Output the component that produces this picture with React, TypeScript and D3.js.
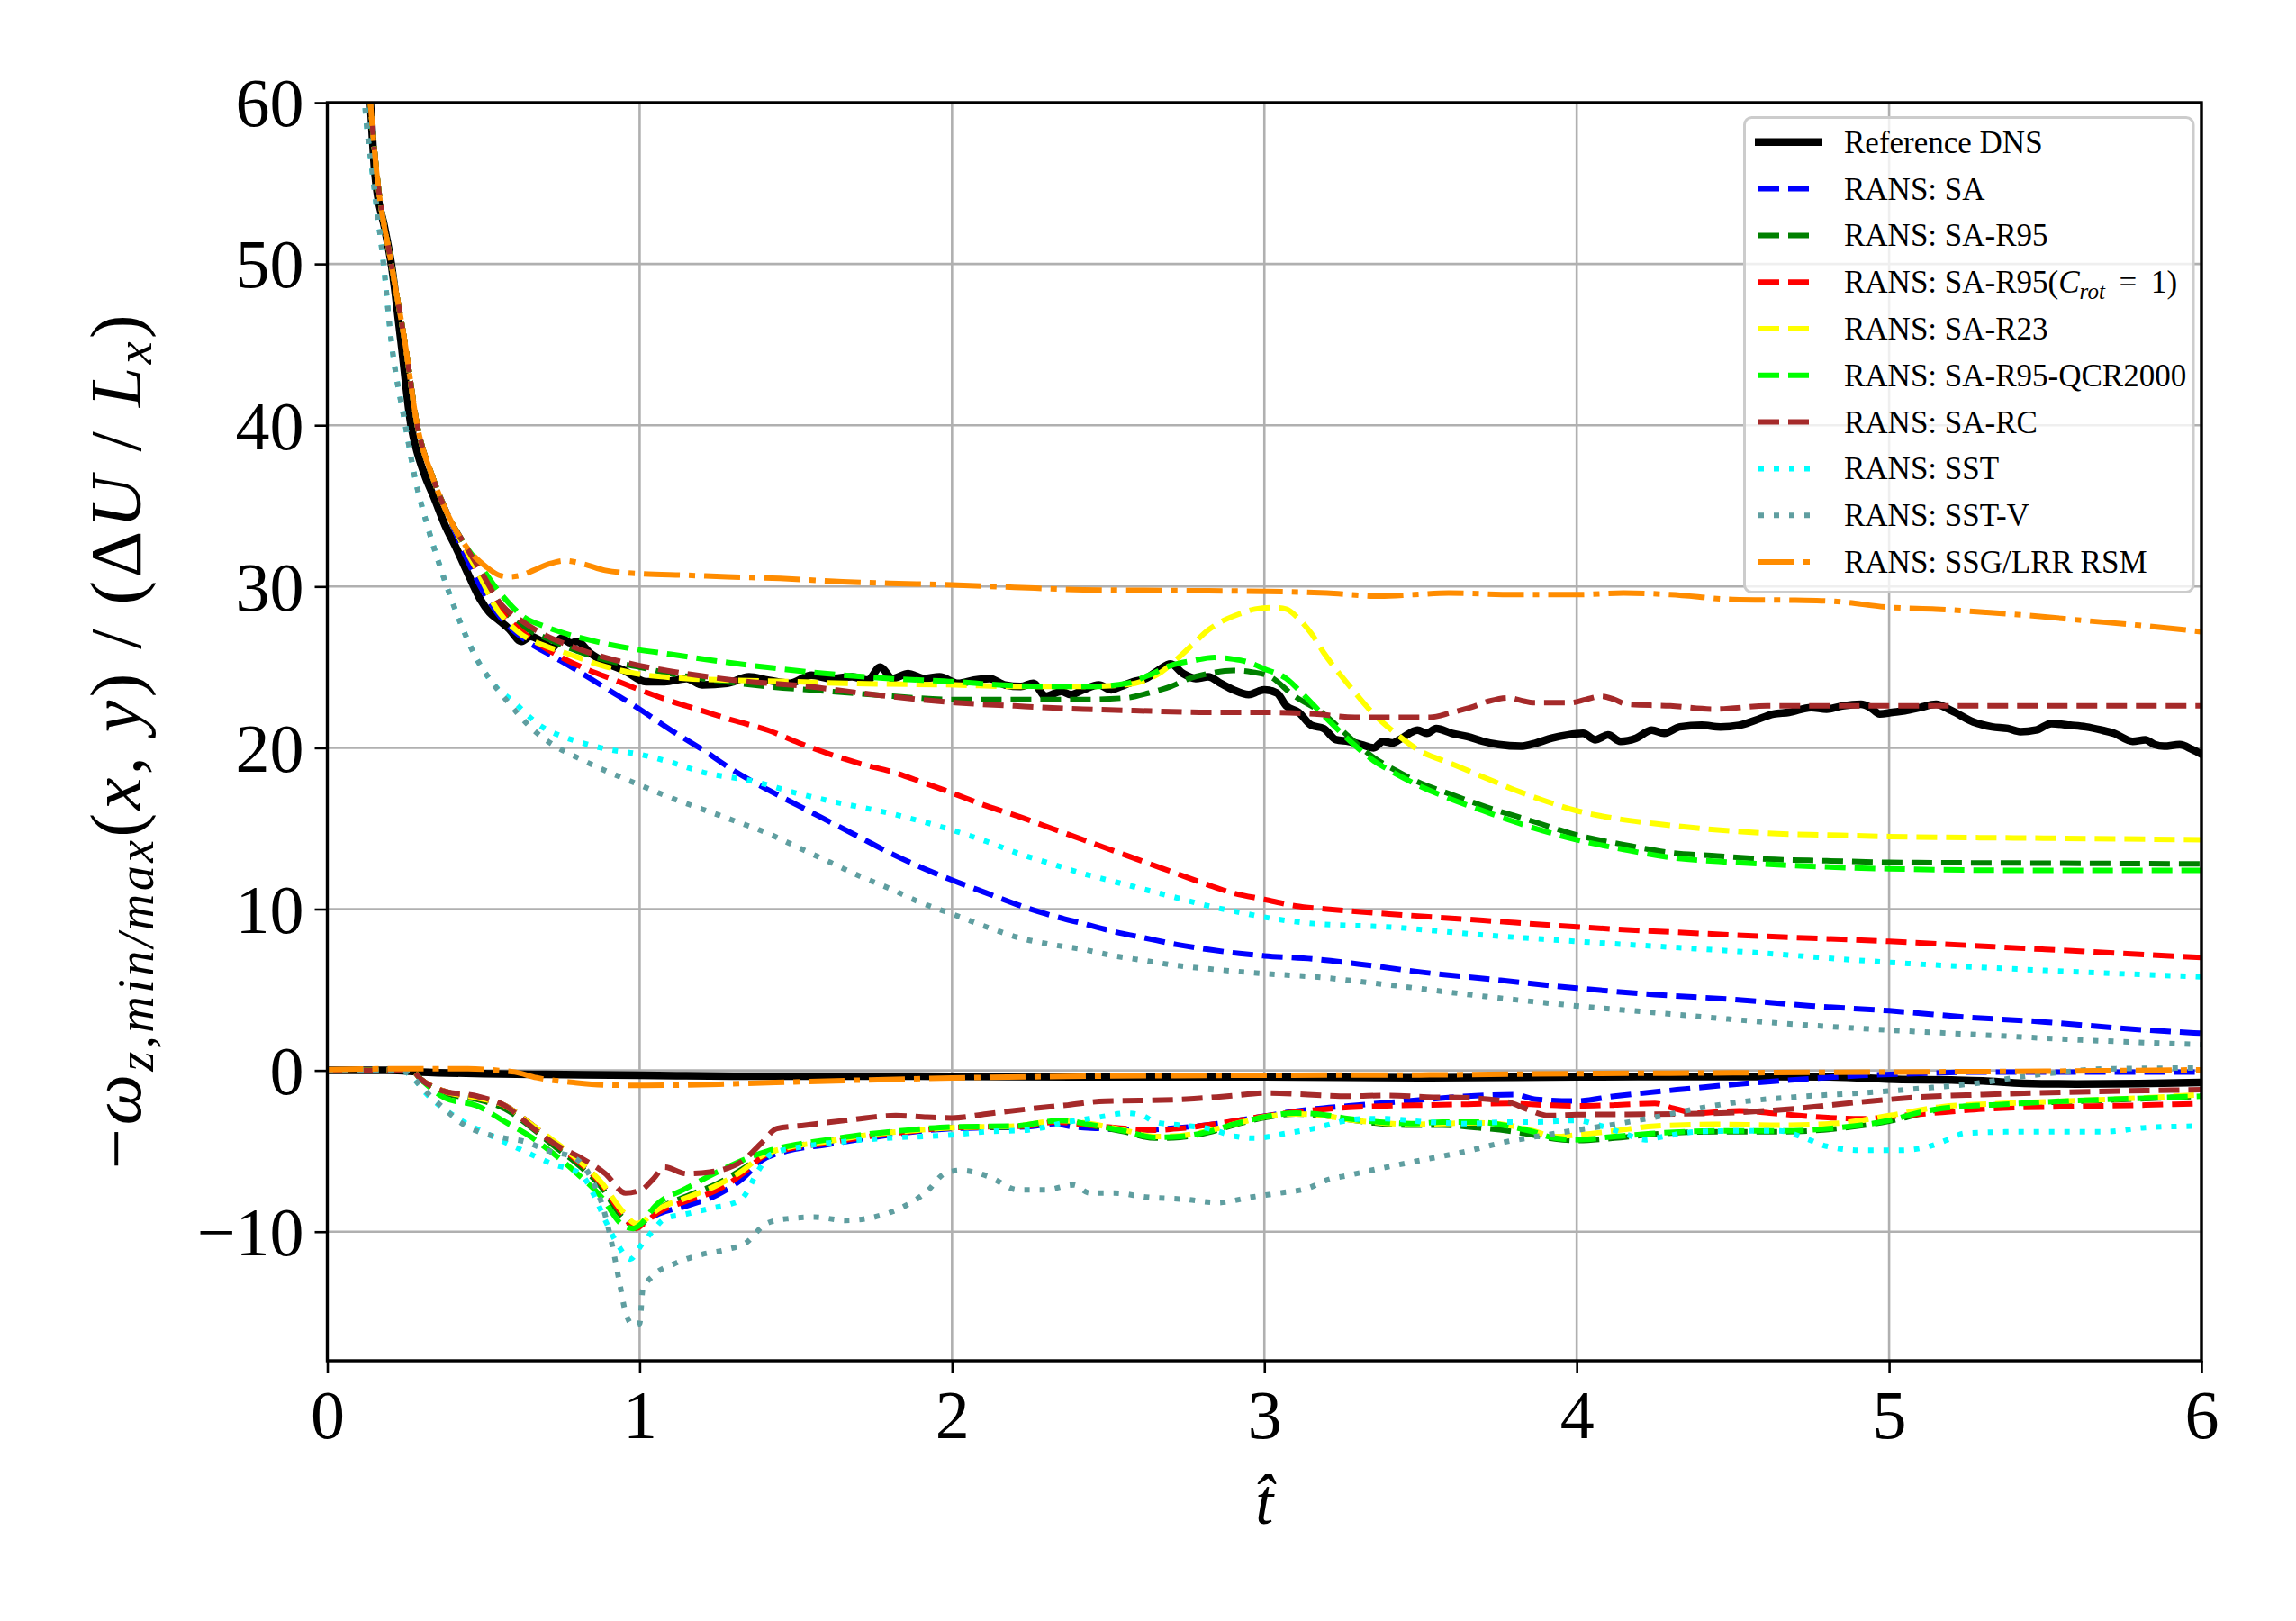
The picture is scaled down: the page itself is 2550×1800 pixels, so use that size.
import { useEffect, useRef } from "react"
import * as d3 from "d3"

type Pt = [number, number]

// eje x / eje y
const ticksX = [0, 1, 2, 3, 4, 5, 6]
const ticksY = [-10, 0, 10, 20, 30, 40, 50, 60]

// Reference DNS
const dnsUpper: Pt[] = [
  [0.1, 72], [0.138, 60], [0.152, 55.7], [0.184, 52.2], [0.205, 50], [0.236, 45.2], [0.268, 40], [0.29, 38.2],
  [0.314, 36.8], [0.34, 35.6], [0.377, 33.8], [0.415, 32.3], [0.455, 30.6], [0.49, 29.2], [0.519, 28.4], [0.55, 27.9],
  [0.58, 27.4], [0.622, 26.6], [0.65, 26.9], [0.686, 26.6], [0.72, 26.2], [0.75, 26.8], [0.78, 26.5], [0.8, 26.6],
  [0.84, 25.9], [0.89, 25.3], [0.95, 24.8], [1.02, 24.1], [1.08, 24.1], [1.15, 24.3], [1.2, 23.9], [1.28, 24.0],
  [1.35, 24.4], [1.41, 24.2], [1.48, 24.0], [1.55, 24.5], [1.61, 24.3], [1.68, 24.4], [1.73, 24.2], [1.77, 25.0],
  [1.81, 24.3], [1.86, 24.6], [1.91, 24.3], [1.96, 24.4], [2.02, 24.0], [2.07, 24.2], [2.12, 24.3], [2.17, 23.9],
  [2.22, 23.8], [2.26, 24.0], [2.3, 23.2], [2.35, 23.5], [2.38, 23.3], [2.42, 23.6], [2.47, 23.9], [2.51, 23.6],
  [2.54, 23.8], [2.58, 24.1], [2.62, 24.3], [2.66, 24.8], [2.7, 25.2], [2.74, 24.6], [2.78, 24.3], [2.82, 24.4],
  [2.86, 24.0], [2.9, 23.6], [2.95, 23.3], [2.98, 23.5], [3.0, 23.6], [3.04, 23.4], [3.07, 22.6], [3.11, 22.2],
  [3.15, 21.4], [3.19, 21.2], [3.23, 20.5], [3.27, 20.4], [3.31, 20.2], [3.35, 20.0], [3.38, 20.4], [3.41, 20.3],
  [3.44, 20.6], [3.49, 21.1], [3.52, 20.9], [3.55, 21.2], [3.6, 20.9], [3.65, 20.7], [3.7, 20.4], [3.75, 20.2],
  [3.82, 20.1], [3.87, 20.3], [3.92, 20.6], [3.97, 20.8], [4.02, 20.9], [4.06, 20.5], [4.1, 20.8], [4.14, 20.4],
  [4.19, 20.6], [4.24, 21.1], [4.28, 20.9], [4.33, 21.3], [4.4, 21.4], [4.46, 21.3], [4.52, 21.4], [4.57, 21.7],
  [4.63, 22.1], [4.68, 22.2], [4.75, 22.5], [4.8, 22.4], [4.85, 22.6], [4.91, 22.7], [4.94, 22.5], [4.97, 22.1],
  [5.01, 22.2], [5.05, 22.3], [5.1, 22.5], [5.15, 22.7], [5.2, 22.3], [5.27, 21.6], [5.33, 21.3], [5.38, 21.2],
  [5.42, 21.0], [5.47, 21.1], [5.52, 21.5], [5.58, 21.4], [5.63, 21.3], [5.68, 21.1], [5.72, 20.9], [5.78, 20.4],
  [5.82, 20.5], [5.85, 20.2], [5.88, 20.1], [5.93, 20.2], [5.97, 19.9], [6.0, 19.6],
]
const dnsLower: Pt[] = [
  [0, 0], [0.2, 0], [0.3, -0.1], [0.5, -0.2], [0.7, -0.25], [1.0, -0.3], [1.3, -0.35], [1.6, -0.35], [2.0, -0.37],
  [2.5, -0.4], [3.0, -0.4], [3.5, -0.45], [4.0, -0.4], [4.5, -0.38], [4.8, -0.4], [5.04, -0.56], [5.2, -0.6],
  [5.3, -0.65], [5.43, -0.8], [5.6, -0.84], [5.8, -0.82], [6.0, -0.75],
]

// RANS: SA
const saUpper: Pt[] = [
  [0.1, 72], [0.138, 60], [0.158, 55.7], [0.205, 50], [0.248, 45.2], [0.288, 40], [0.337, 36.8], [0.39, 34.3],
  [0.44, 32.0], [0.49, 30.0], [0.55, 28.2], [0.64, 26.6], [0.72, 25.7], [0.8, 24.8], [0.9, 23.6], [1.0, 22.4],
  [1.1, 21.1], [1.2, 19.9], [1.3, 18.6], [1.41, 17.4], [1.51, 16.4], [1.61, 15.4], [1.71, 14.4], [1.81, 13.4],
  [1.9, 12.6], [2.0, 11.8], [2.11, 11.0], [2.22, 10.2], [2.32, 9.6], [2.42, 9.1], [2.52, 8.6], [2.62, 8.2],
  [2.72, 7.8], [2.82, 7.5], [2.92, 7.25], [3.0, 7.1], [3.16, 6.9], [3.3, 6.6], [3.5, 6.1], [3.75, 5.6], [4.0, 5.1],
  [4.25, 4.7], [4.5, 4.4], [4.75, 4.0], [5.0, 3.7], [5.25, 3.3], [5.5, 3.0], [5.75, 2.6], [6.0, 2.3],
]
const saLower: Pt[] = [
  [0, 0], [0.27, 0], [0.3, -0.56], [0.376, -1.3], [0.48, -1.7], [0.57, -2.2], [0.65, -3.3], [0.72, -4.4],
  [0.8, -5.6], [0.88, -7.1], [0.94, -8.8], [0.99, -9.7], [1.006, -9.5], [1.06, -8.9], [1.15, -8.4], [1.25, -7.7],
  [1.33, -6.7], [1.39, -5.6], [1.47, -5.0], [1.6, -4.6], [1.73, -4.2], [1.86, -3.85], [2.0, -3.6], [2.11, -3.55],
  [2.24, -3.5], [2.33, -3.3], [2.37, -3.45], [2.47, -3.6], [2.6, -3.7], [2.73, -3.55], [2.85, -3.3], [2.98, -2.9],
  [3.11, -2.5], [3.27, -2.2], [3.39, -2.0], [3.52, -1.8], [3.65, -1.6], [3.8, -1.5], [3.87, -1.8], [4.0, -1.9],
  [4.12, -1.6], [4.32, -1.2], [4.52, -0.84], [4.71, -0.56], [4.91, -0.32], [5.1, -0.19], [5.3, -0.1], [6.0, -0.1],
]

// RANS: SA-R95
const r95Upper: Pt[] = [
  [0.1, 72], [0.138, 60], [0.158, 55.7], [0.205, 50], [0.248, 45.2], [0.288, 40], [0.337, 36.8], [0.39, 34.3],
  [0.44, 32.6], [0.49, 31.0], [0.55, 28.9], [0.62, 27.6], [0.7, 26.8], [0.8, 26.0], [0.9, 25.4], [1.0, 25.0],
  [1.1, 24.6], [1.2, 24.3], [1.41, 23.8], [1.61, 23.5], [1.81, 23.2], [2.0, 23.0], [2.22, 23.0], [2.42, 23.0],
  [2.56, 23.1], [2.63, 23.4], [2.7, 23.8], [2.76, 24.3], [2.82, 24.6], [2.9, 24.8], [2.96, 24.7], [3.02, 24.4],
  [3.09, 23.3], [3.19, 22.1], [3.27, 20.7], [3.35, 19.4], [3.42, 18.6], [3.49, 17.9], [3.6, 17.1], [3.7, 16.4],
  [3.85, 15.5], [4.0, 14.6], [4.15, 14.0], [4.3, 13.5], [4.45, 13.3], [4.61, 13.1], [4.8, 13.0], [5.0, 12.9],
  [5.5, 12.85], [6.0, 12.8],
]
const r95Lower: Pt[] = [
  [0, 0], [0.27, 0], [0.3, -0.56], [0.376, -1.4], [0.48, -1.8], [0.57, -2.4], [0.65, -3.5], [0.72, -4.6],
  [0.8, -5.8], [0.88, -7.3], [0.94, -9.0], [0.99, -9.7], [1.006, -9.5], [1.06, -8.6], [1.15, -7.8], [1.25, -7.0],
  [1.33, -6.1], [1.39, -5.3], [1.47, -4.8], [1.6, -4.4], [1.73, -4.0], [1.86, -3.75], [2.0, -3.55], [2.2, -3.5],
  [2.35, -3.15], [2.44, -3.4], [2.55, -3.8], [2.65, -4.2], [2.73, -4.15], [2.82, -3.85], [2.91, -3.35],
  [3.01, -2.9], [3.1, -2.7], [3.19, -2.8], [3.27, -3.05], [3.37, -3.3], [3.47, -3.4], [3.57, -3.4], [3.68, -3.55],
  [3.78, -3.75], [3.86, -4.0], [3.93, -4.25], [4.0, -4.35], [4.12, -4.2], [4.25, -3.95], [4.45, -3.8],
  [4.65, -3.8], [4.84, -3.6], [5.0, -3.15], [5.17, -2.4], [5.37, -2.1], [5.56, -1.95], [5.82, -1.75], [6.0, -1.6],
]

// RANS: SA-R95(Crot = 1)
const crotUpper: Pt[] = [
  [0.1, 72], [0.138, 60], [0.158, 55.7], [0.205, 50], [0.248, 45.2], [0.288, 40], [0.337, 36.8], [0.39, 34.3],
  [0.44, 32.4], [0.49, 30.6], [0.55, 28.6], [0.6, 27.6], [0.68, 26.4], [0.76, 25.5], [0.84, 24.8], [0.92, 24.2],
  [1.0, 23.6], [1.1, 22.9], [1.2, 22.3], [1.3, 21.7], [1.41, 21.1], [1.51, 20.3], [1.61, 19.6], [1.71, 19.0],
  [1.81, 18.5], [1.9, 17.9], [2.0, 17.2], [2.11, 16.4], [2.22, 15.7], [2.32, 15.0], [2.42, 14.3], [2.52, 13.6],
  [2.62, 12.9], [2.72, 12.2], [2.82, 11.5], [2.9, 11.0], [3.0, 10.6], [3.1, 10.2], [3.2, 10.0], [3.4, 9.7],
  [3.7, 9.3], [4.0, 8.9], [4.5, 8.4], [5.0, 8.0], [5.5, 7.5], [6.0, 7.0],
]
const crotLower: Pt[] = [
  [0, 0], [0.27, 0], [0.3, -0.56], [0.376, -1.3], [0.48, -1.7], [0.57, -2.2], [0.65, -3.3], [0.72, -4.4],
  [0.8, -5.6], [0.88, -7.1], [0.94, -8.8], [0.99, -9.8], [1.006, -9.6], [1.06, -8.8], [1.15, -8.1], [1.25, -7.4],
  [1.33, -6.4], [1.39, -5.4], [1.47, -4.9], [1.6, -4.5], [1.73, -4.1], [1.86, -3.8], [2.0, -3.55], [2.24, -3.45],
  [2.33, -3.2], [2.44, -3.4], [2.55, -3.6], [2.65, -3.7], [2.73, -3.6], [2.85, -3.3], [2.98, -2.9], [3.11, -2.55],
  [3.27, -2.3], [3.39, -2.2], [3.52, -2.15], [3.65, -2.1], [3.78, -2.05], [3.9, -2.15], [4.0, -2.2],
  [4.12, -2.15], [4.25, -2.05], [4.31, -2.35], [4.39, -2.65], [4.52, -2.5], [4.65, -2.7], [4.78, -2.9],
  [4.91, -3.0], [5.04, -2.8], [5.17, -2.6], [5.3, -2.4], [5.56, -2.25], [5.82, -2.15], [6.0, -2.05],
]

// RANS: SA-R23
const r23Upper: Pt[] = [
  [0.1, 72], [0.138, 60], [0.158, 55.7], [0.205, 50], [0.248, 45.2], [0.288, 40], [0.337, 36.8], [0.39, 34.3],
  [0.44, 32.4], [0.49, 30.6], [0.53, 29.0], [0.61, 27.2], [0.7, 26.3], [0.76, 25.9], [0.88, 25.1], [0.99, 24.6],
  [1.15, 24.3], [1.28, 24.2], [1.5, 24.1], [1.66, 24.0], [2.01, 23.9], [2.22, 23.8], [2.42, 23.8], [2.55, 23.9],
  [2.62, 24.2], [2.67, 24.7], [2.72, 25.5], [2.77, 26.4], [2.82, 27.3], [2.87, 27.9], [2.92, 28.3], [2.97, 28.6],
  [3.03, 28.7], [3.07, 28.6], [3.11, 28.0], [3.15, 27.1], [3.19, 25.9], [3.27, 23.9], [3.35, 22.1], [3.42, 20.9],
  [3.49, 19.9], [3.6, 19.0], [3.7, 18.2], [3.8, 17.4], [3.9, 16.7], [4.0, 16.1], [4.1, 15.7], [4.25, 15.3],
  [4.4, 15.0], [4.61, 14.7], [4.8, 14.6], [5.0, 14.5], [5.5, 14.4], [6.0, 14.3],
]
const r23Lower: Pt[] = [
  [0, 0], [0.27, 0], [0.3, -0.56], [0.376, -1.3], [0.48, -1.7], [0.57, -2.2], [0.65, -3.3], [0.72, -4.3],
  [0.8, -5.5], [0.88, -7.0], [0.94, -8.6], [0.99, -9.5], [1.006, -9.4], [1.06, -8.6], [1.15, -7.9], [1.25, -7.1],
  [1.33, -6.2], [1.39, -5.3], [1.47, -4.8], [1.6, -4.4], [1.73, -4.0], [1.86, -3.75], [2.0, -3.55], [2.2, -3.45],
  [2.35, -3.1], [2.44, -3.3], [2.55, -3.7], [2.65, -4.1], [2.73, -4.05], [2.82, -3.75], [2.91, -3.3],
  [3.01, -2.85], [3.1, -2.7], [3.19, -2.8], [3.27, -3.05], [3.37, -3.25], [3.47, -3.35], [3.57, -3.3],
  [3.68, -3.25], [3.78, -3.4], [3.86, -3.75], [3.93, -4.1], [4.0, -4.0], [4.12, -3.75], [4.25, -3.45],
  [4.45, -3.35], [4.65, -3.4], [4.84, -3.27], [5.0, -2.8], [5.17, -2.25], [5.37, -2.05], [5.56, -1.9],
  [5.82, -1.7], [6.0, -1.5],
]

// RANS: SA-R95-QCR2000
const qcrUpper: Pt[] = [
  [0.1, 72], [0.138, 60], [0.158, 55.7], [0.205, 50], [0.248, 45.2], [0.288, 40], [0.337, 36.8], [0.39, 34.3],
  [0.44, 32.6], [0.49, 31.3], [0.545, 29.8], [0.63, 28.1], [0.7, 27.5], [0.76, 27.1], [0.88, 26.5], [0.99, 26.1],
  [1.1, 25.8], [1.28, 25.3], [1.45, 24.9], [1.6, 24.6], [1.8, 24.3], [2.01, 24.1], [2.15, 23.9], [2.32, 23.8],
  [2.45, 23.8], [2.56, 24.0], [2.63, 24.5], [2.7, 25.1], [2.77, 25.4], [2.84, 25.6], [2.9, 25.5], [2.95, 25.3],
  [3.0, 24.9], [3.07, 24.3], [3.12, 23.4], [3.19, 22.0], [3.27, 20.5], [3.35, 19.2], [3.42, 18.4], [3.49, 17.7],
  [3.6, 16.8], [3.7, 16.1], [3.85, 15.1], [4.0, 14.3], [4.15, 13.7], [4.3, 13.2], [4.5, 12.9], [4.7, 12.7],
  [5.0, 12.5], [5.5, 12.4], [6.0, 12.4],
]
const qcrLower: Pt[] = [
  [0, 0], [0.27, 0], [0.3, -0.56], [0.376, -1.7], [0.48, -2.2], [0.57, -3.2], [0.65, -4.1], [0.72, -5.1],
  [0.8, -6.4], [0.88, -7.9], [0.94, -9.5], [0.98, -9.8], [1.0, -9.6], [1.05, -8.4], [1.15, -7.3], [1.28, -6.0],
  [1.35, -5.4], [1.41, -5.0], [1.5, -4.6], [1.6, -4.3], [1.73, -3.95], [1.86, -3.7], [2.0, -3.5], [2.2, -3.45],
  [2.35, -3.1], [2.44, -3.35], [2.55, -3.75], [2.65, -4.15], [2.73, -4.1], [2.82, -3.8], [2.91, -3.3],
  [3.01, -2.85], [3.1, -2.65], [3.19, -2.75], [3.27, -3.0], [3.37, -3.2], [3.47, -3.3], [3.57, -3.2],
  [3.68, -3.2], [3.78, -3.45], [3.86, -3.8], [3.93, -4.2], [4.0, -4.3], [4.12, -4.1], [4.25, -3.9],
  [4.45, -3.75], [4.65, -3.75], [4.84, -3.55], [5.0, -3.1], [5.1, -2.6], [5.17, -2.35], [5.37, -2.1],
  [5.56, -1.9], [5.82, -1.72], [6.0, -1.6],
]

// RANS: SA-RC
const rcUpper: Pt[] = [
  [0.1, 72], [0.138, 60], [0.158, 55.7], [0.205, 50], [0.248, 45.2], [0.288, 40], [0.337, 36.8], [0.39, 34.3],
  [0.44, 32.6], [0.49, 31.0], [0.556, 28.9], [0.62, 27.9], [0.686, 27.1], [0.78, 26.3], [0.89, 25.6], [1.0, 25.1],
  [1.15, 24.6], [1.3, 24.2], [1.54, 23.8], [1.75, 23.3], [2.01, 22.8], [2.2, 22.6], [2.42, 22.4], [2.6, 22.3],
  [2.82, 22.2], [3.0, 22.2], [3.16, 22.1], [3.29, 21.9], [3.4, 21.9], [3.53, 21.9], [3.6, 22.2], [3.66, 22.5],
  [3.72, 22.9], [3.78, 23.1], [3.83, 22.9], [3.86, 22.8], [3.92, 22.8], [3.98, 22.8], [4.03, 23.0], [4.08, 23.2],
  [4.12, 23.0], [4.16, 22.7], [4.3, 22.6], [4.44, 22.4], [4.61, 22.6], [4.8, 22.6], [5.0, 22.6], [5.5, 22.6],
  [6.0, 22.6],
]
const rcLower: Pt[] = [
  [0, 0], [0.27, 0], [0.3, -0.56], [0.376, -1.3], [0.48, -1.6], [0.57, -2.2], [0.66, -3.6], [0.74, -4.7],
  [0.81, -5.4], [0.89, -6.4], [0.955, -7.6], [1.006, -7.4], [1.045, -6.7], [1.08, -6.0], [1.15, -6.4],
  [1.225, -6.3], [1.33, -5.6], [1.39, -4.5], [1.44, -3.6], [1.53, -3.4], [1.66, -3.1], [1.82, -2.8], [1.92, -2.9],
  [2.0, -2.95], [2.11, -2.7], [2.24, -2.4], [2.37, -2.15], [2.49, -1.9], [2.6, -1.87], [2.75, -1.78], [2.88, -1.6],
  [3.01, -1.4], [3.14, -1.5], [3.27, -1.6], [3.39, -1.55], [3.52, -1.65], [3.65, -1.7], [3.78, -1.95],
  [3.84, -2.4], [3.91, -2.8], [4.0, -2.75], [4.32, -2.7], [4.52, -2.6], [4.71, -2.35], [4.91, -1.96],
  [5.1, -1.65], [5.3, -1.5], [5.56, -1.35], [5.82, -1.25], [6.0, -1.2],
]

// RANS: SST
const sstUpper: Pt[] = [
  [0.09, 72], [0.12, 60], [0.144, 55.7], [0.18, 50], [0.205, 45.2], [0.25, 40], [0.28, 36.8], [0.32, 33.8],
  [0.36, 31.3], [0.415, 28.3], [0.476, 25.6], [0.53, 24.0], [0.6, 22.8], [0.68, 21.4], [0.74, 20.8], [0.8, 20.4],
  [0.9, 19.9], [1.0, 19.6], [1.1, 19.1], [1.2, 18.5], [1.37, 17.9], [1.5, 17.2], [1.61, 16.7], [1.81, 15.9],
  [2.0, 14.9], [2.11, 14.2], [2.22, 13.4], [2.32, 12.8], [2.42, 12.2], [2.52, 11.7], [2.62, 11.2], [2.72, 10.7],
  [2.82, 10.2], [2.92, 9.8], [3.0, 9.5], [3.16, 9.1], [3.39, 8.9], [3.7, 8.4], [4.0, 8.0], [4.5, 7.4],
  [5.0, 6.7], [5.5, 6.2], [6.0, 5.8],
]
const sstLower: Pt[] = [
  [0, 0], [0.24, 0], [0.26, -0.2], [0.32, -1.5], [0.42, -3.0], [0.53, -4.1], [0.63, -5.0], [0.72, -5.8],
  [0.81, -6.4], [0.865, -8.2], [0.89, -9.3], [0.93, -10.8], [0.97, -11.7], [1.006, -10.8], [1.04, -10.0],
  [1.08, -9.2], [1.15, -8.9], [1.24, -8.5], [1.29, -8.3], [1.33, -7.9], [1.38, -6.2], [1.42, -5.2], [1.53, -4.7],
  [1.66, -4.4], [1.79, -4.2], [2.0, -4.0], [2.11, -3.8], [2.24, -3.7], [2.37, -3.2], [2.47, -2.9], [2.56, -2.65],
  [2.61, -2.8], [2.65, -3.2], [2.73, -3.4], [2.82, -3.6], [2.91, -4.1], [2.97, -4.2], [3.07, -3.9], [3.16, -3.6],
  [3.24, -3.2], [3.32, -3.0], [3.39, -3.0], [3.52, -3.2], [3.65, -3.3], [3.78, -3.2], [3.87, -3.2], [4.0, -3.1],
  [4.07, -3.4], [4.15, -3.9], [4.22, -4.3], [4.25, -4.2], [4.39, -3.8], [4.52, -3.75], [4.65, -3.75],
  [4.73, -4.2], [4.8, -4.7], [4.91, -4.95], [5.04, -4.95], [5.13, -4.7], [5.2, -4.2], [5.24, -3.9],
  [5.43, -3.8], [5.69, -3.8], [5.82, -3.55], [6.0, -3.45],
]

// RANS: SST-V
const sstvUpper: Pt[] = [
  [0.09, 72], [0.12, 60], [0.144, 55.7], [0.18, 50], [0.205, 45.2], [0.25, 40], [0.28, 36.8], [0.32, 33.8],
  [0.36, 31.3], [0.415, 28.3], [0.476, 25.6], [0.53, 24.0], [0.58, 22.8], [0.66, 21.1], [0.73, 20.1],
  [0.8, 19.4], [0.9, 18.5], [1.0, 17.7], [1.1, 16.9], [1.2, 16.2], [1.3, 15.5], [1.41, 14.7], [1.51, 13.8],
  [1.61, 12.9], [1.71, 12.0], [1.81, 11.2], [1.9, 10.4], [2.0, 9.7], [2.11, 8.9], [2.22, 8.2], [2.32, 7.8],
  [2.42, 7.5], [2.52, 7.1], [2.62, 6.8], [2.72, 6.5], [2.82, 6.3], [3.0, 6.0], [3.16, 5.8], [3.4, 5.3],
  [3.7, 4.6], [4.0, 4.0], [4.3, 3.5], [4.6, 3.0], [5.0, 2.5], [5.3, 2.2], [5.6, 1.9], [6.0, 1.6],
]
const sstvLower: Pt[] = [
  [0, 0], [0.24, 0], [0.26, -0.2], [0.3, -1.0], [0.376, -2.4], [0.44, -3.4], [0.5, -3.9], [0.57, -4.2],
  [0.63, -4.4], [0.71, -5.0], [0.79, -5.4], [0.84, -6.5], [0.89, -9.0], [0.916, -11.2], [0.935, -13.1],
  [0.955, -15.0], [0.98, -15.8], [1.0, -15.7], [1.01, -13.6], [1.045, -12.7], [1.11, -12.0], [1.2, -11.4],
  [1.28, -11.1], [1.34, -10.7], [1.405, -9.5], [1.47, -9.2], [1.56, -9.1], [1.66, -9.3], [1.77, -9.0],
  [1.84, -8.5], [1.92, -7.5], [1.98, -6.35], [2.03, -6.2], [2.12, -6.6], [2.21, -7.4], [2.3, -7.4], [2.39, -7.1],
  [2.44, -7.6], [2.52, -7.6], [2.62, -7.85], [2.75, -8.0], [2.85, -8.2], [2.96, -7.85], [3.05, -7.6],
  [3.14, -7.3], [3.2, -6.8], [3.27, -6.5], [3.39, -6.0], [3.52, -5.5], [3.65, -5.0], [3.78, -4.4], [3.87, -4.1],
  [4.0, -3.7], [4.12, -3.35], [4.25, -2.9], [4.39, -2.35], [4.52, -1.96], [4.71, -1.63], [4.91, -1.4],
  [5.1, -1.12], [5.3, -0.75], [5.43, -0.37], [5.56, -0.1], [5.69, 0.1], [6.0, 0.15],
]

// RANS: SSG/LRR RSM
const ssgUpper: Pt[] = [
  [0.1, 72], [0.138, 60], [0.158, 55.7], [0.205, 50], [0.248, 45.2], [0.288, 40], [0.337, 36.8], [0.39, 34.3],
  [0.44, 32.6], [0.51, 31.2], [0.55, 30.7], [0.58, 30.6], [0.62, 30.7], [0.66, 31.0], [0.71, 31.4], [0.76, 31.6],
  [0.82, 31.4], [0.89, 31.0], [1.0, 30.8], [1.15, 30.7], [1.28, 30.6], [1.45, 30.5], [1.65, 30.3], [1.8, 30.2],
  [2.0, 30.1], [2.2, 29.95], [2.42, 29.8], [2.7, 29.75], [3.0, 29.7], [3.2, 29.6], [3.37, 29.4], [3.48, 29.5],
  [3.59, 29.6], [3.8, 29.5], [4.0, 29.5], [4.15, 29.6], [4.3, 29.5], [4.5, 29.2], [4.7, 29.15], [4.81, 29.1],
  [5.01, 28.7], [5.15, 28.6], [5.31, 28.4], [5.45, 28.2], [5.62, 27.9], [5.8, 27.6], [6.0, 27.2],
]
const ssgLower: Pt[] = [
  [0, 0.05], [0.2, 0.1], [0.45, 0.1], [0.55, 0], [0.6, -0.1], [0.67, -0.45], [0.79, -0.75], [0.89, -0.9],
  [1.0, -0.93], [1.15, -0.9], [1.28, -0.84], [1.53, -0.7], [1.79, -0.56], [2.0, -0.47], [2.5, -0.35],
  [3.0, -0.3], [3.5, -0.28], [4.0, -0.2], [4.5, -0.15], [5.0, -0.1], [5.5, -0.05], [6.0, 0.04],
]

const DASHED = "23 10"
const DOTTED = "6 11"
const DASHDOT = "40 10 7 10"

const series = [
  { label: "Reference DNS", color: "#000000", dash: "", width: 8.5, upper: dnsUpper, lower: dnsLower },
  { label: "RANS: SA", color: "#0000ff", dash: DASHED, width: 6, upper: saUpper, lower: saLower },
  { label: "RANS: SA-R95", color: "#008000", dash: DASHED, width: 6, upper: r95Upper, lower: r95Lower },
  { label: "RANS: SA-R95(", color: "#ff0000", dash: DASHED, width: 6, upper: crotUpper, lower: crotLower, crot: true },
  { label: "RANS: SA-R23", color: "#ffff00", dash: DASHED, width: 6, upper: r23Upper, lower: r23Lower },
  { label: "RANS: SA-R95-QCR2000", color: "#00ff00", dash: DASHED, width: 6, upper: qcrUpper, lower: qcrLower },
  { label: "RANS: SA-RC", color: "#a52a2a", dash: DASHED, width: 6, upper: rcUpper, lower: rcLower },
  { label: "RANS: SST", color: "#00ffff", dash: DOTTED, width: 6, upper: sstUpper, lower: sstLower },
  { label: "RANS: SST-V", color: "#5f9ea0", dash: DOTTED, width: 6, upper: sstvUpper, lower: sstvLower },
  { label: "RANS: SSG/LRR RSM", color: "#ff8c00", dash: DASHDOT, width: 6, upper: ssgUpper, lower: ssgLower },
]

const FONT = "'Liberation Serif', 'DejaVu Serif', serif"

export default function App() {
  const svgRef = useRef<SVGSVGElement>(null)

  useEffect(() => {
    if (!svgRef.current) return
    const svg = d3.select(svgRef.current)
    svg.selectAll("*").remove()

    const width = 2550
    const height = 1800
    const margin = { top: 114, right: 105, bottom: 289, left: 363.5 }
    const innerWidth = width - margin.left - margin.right
    const innerHeight = height - margin.top - margin.bottom

    svg.append("rect").attr("width", width).attr("height", height).attr("fill", "#ffffff")

    const g = svg.append("g").attr("transform", `translate(${margin.left},${margin.top})`)

    // Escalas
    const x = d3.scaleLinear().domain([0, 6]).range([0, innerWidth])
    const y = d3.scaleLinear().domain([-18, 60]).range([innerHeight, 0])

    // Rejilla
    g.append("g")
      .selectAll("line")
      .data(ticksX)
      .enter()
      .append("line")
      .attr("x1", (d) => x(d))
      .attr("x2", (d) => x(d))
      .attr("y1", 0)
      .attr("y2", innerHeight)
      .attr("stroke", "#b0b0b0")
      .attr("stroke-width", 2.6)
    g.append("g")
      .selectAll("line")
      .data(ticksY)
      .enter()
      .append("line")
      .attr("x1", 0)
      .attr("x2", innerWidth)
      .attr("y1", (d) => y(d))
      .attr("y2", (d) => y(d))
      .attr("stroke", "#b0b0b0")
      .attr("stroke-width", 2.6)

    // Curvas
    svg
      .append("defs")
      .append("clipPath")
      .attr("id", "area-grafico")
      .append("rect")
      .attr("width", innerWidth)
      .attr("height", innerHeight)

    const linea = d3
      .line<Pt>()
      .x((d) => x(d[0]))
      .y((d) => y(d[1]))
      .curve(d3.curveMonotoneX)

    const curvas = g.append("g").attr("clip-path", "url(#area-grafico)")
    series.forEach((s) => {
      ;[s.upper, s.lower].forEach((datos) => {
        curvas
          .append("path")
          .datum(datos)
          .attr("d", linea)
          .attr("fill", "none")
          .attr("stroke", s.color)
          .attr("stroke-width", s.width)
          .attr("stroke-dasharray", s.dash || null)
          .attr("stroke-linejoin", "round")
          .attr("stroke-linecap", s.dash ? "butt" : "round")
      })
    })

    // Ejes
    const xAxis = d3.axisBottom(x).tickValues(ticksX).tickSize(14).tickPadding(10).tickFormat((d) => `${d}`)
    const yAxis = d3
      .axisLeft(y)
      .tickValues(ticksY)
      .tickSize(14)
      .tickPadding(12)
      .tickFormat((d) => (+d < 0 ? `\u2212${Math.abs(+d)}` : `${d}`))

    const gx = g.append("g").attr("transform", `translate(0,${innerHeight})`).call(xAxis)
    const gy = g.append("g").call(yAxis)
    ;[gx, gy].forEach((ax) => {
      ax.select(".domain").remove()
      ax.selectAll(".tick line").attr("stroke", "#000").attr("stroke-width", 2.6)
      ax.selectAll(".tick text").attr("font-family", FONT).attr("font-size", 76).attr("fill", "#000")
    })
    gx.selectAll(".tick text").attr("dy", "0.82em")
    gy.selectAll(".tick text").attr("dy", "0.34em")

    g.append("rect")
      .attr("width", innerWidth)
      .attr("height", innerHeight)
      .attr("fill", "none")
      .attr("stroke", "#000")
      .attr("stroke-width", 3.4)

    // Etiquetas de ejes
    svg
      .append("text")
      .attr("x", margin.left + x(3))
      .attr("y", 1692)
      .attr("text-anchor", "middle")
      .attr("font-family", FONT)
      .attr("font-style", "italic")
      .attr("font-size", 72)
      .attr("fill", "#000")
      .text("t\u0302")

    const yLabel = svg
      .append("text")
      .attr("transform", `translate(156,822) rotate(-90)`)
      .attr("text-anchor", "middle")
      .attr("font-family", FONT)
      .attr("font-size", 80)
      .attr("letter-spacing", 3.5)
      .attr("fill", "#000")
    yLabel.append("tspan").text("\u2212")
    yLabel.append("tspan").attr("font-style", "italic").text("\u03c9")
    yLabel.append("tspan").attr("font-style", "italic").attr("font-size", 56).attr("dy", 14).text("z,min/max")
    yLabel.append("tspan").attr("dy", -14).text("(")
    yLabel.append("tspan").attr("font-style", "italic").text("x")
    yLabel.append("tspan").text(", ")
    yLabel.append("tspan").attr("font-style", "italic").text("y")
    yLabel.append("tspan").text(") / (\u0394")
    yLabel.append("tspan").attr("font-style", "italic").text("U")
    yLabel.append("tspan").text(" / ")
    yLabel.append("tspan").attr("font-style", "italic").text("L")
    yLabel.append("tspan").attr("font-style", "italic").attr("font-size", 56).attr("dy", 12).text("x")
    yLabel.append("tspan").attr("dy", -12).text(")")

    // Leyenda
    const legend = svg.append("g").attr("transform", "translate(1937.5,130.5)")
    legend
      .append("rect")
      .attr("width", 498.5)
      .attr("height", 527)
      .attr("rx", 8)
      .attr("fill", "#ffffff")
      .attr("fill-opacity", 0.8)
      .attr("stroke", "#cccccc")
      .attr("stroke-width", 3)

    series.forEach((s, i) => {
      const cy = 27.3 + i * 51.8
      const fila = legend.append("g").attr("transform", `translate(0,${cy})`)
      fila
        .append("line")
        .attr("x1", s.dash ? 15.5 : 11.5)
        .attr("x2", s.dash ? 73.5 : 86.5)
        .attr("stroke", s.color)
        .attr("stroke-width", s.width)
        .attr("stroke-dasharray", s.dash || null)
      const texto = fila
        .append("text")
        .attr("x", 110.5)
        .attr("y", 12)
        .attr("font-family", FONT)
        .attr("font-size", 35)
        .attr("fill", "#000")
      texto.append("tspan").text(s.label)
      if ((s as any).crot) {
        texto.append("tspan").attr("font-style", "italic").text("C")
        texto.append("tspan").attr("font-style", "italic").attr("font-size", 25).attr("dy", 7).text("rot")
        texto.append("tspan").attr("dy", -7).text(" \u2009=\u2009 1)")
      }
    })
  }, [])

  return (
    <svg
      ref={svgRef}
      width={2550}
      height={1800}
      viewBox="0 0 2550 1800"
      style={{ position: "absolute", left: 0, top: 0, display: "block" }}
    />
  )
}
